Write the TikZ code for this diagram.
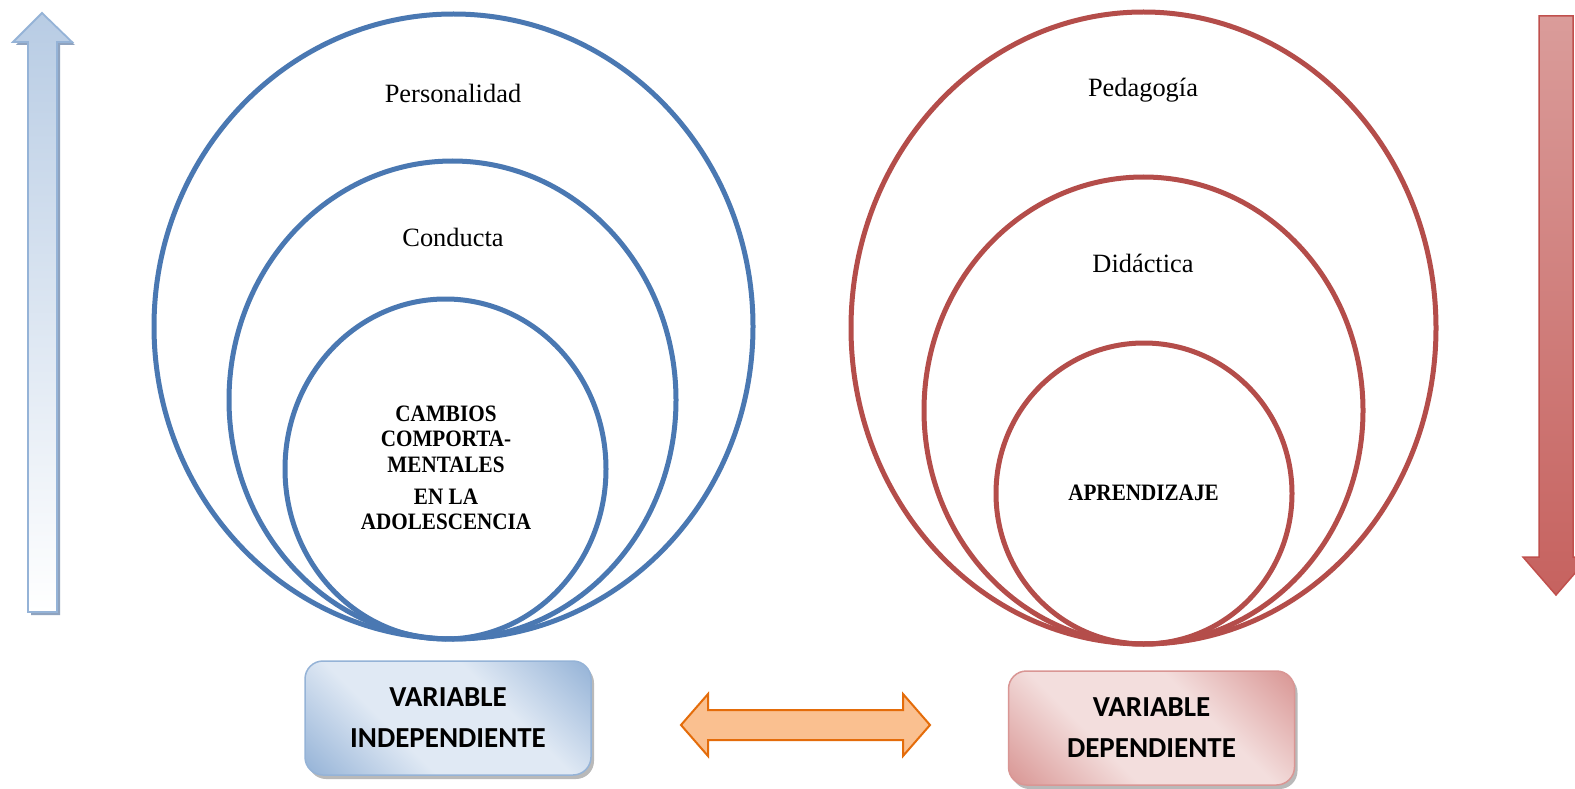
\documentclass[tikz,border=0pt]{standalone}
\usepackage{fontspec}
\setmainfont{Liberation Serif}
\newfontfamily\calib{Carlito}
\newfontfamily\coreserif[FakeStretch=0.9]{Liberation Serif}
\usetikzlibrary{shapes.geometric,shadows}
\definecolor{bluering}{HTML}{4A78B2}
\definecolor{redring}{HTML}{B44D4A}
\definecolor{bluedark}{HTML}{95B3D7}
\definecolor{bluelight}{HTML}{E0E9F4}
\definecolor{pinkdark}{HTML}{D99694}
\definecolor{pinklight}{HTML}{F3DEDD}
\definecolor{arrowblue}{HTML}{B8CCE4}
\definecolor{arrowblueedge}{HTML}{95B3D7}
\definecolor{arrowshadow}{HTML}{8FA3BF}
\definecolor{arrowredtop}{HTML}{DA9C9A}
\definecolor{arrowredbot}{HTML}{C6625F}
\definecolor{arrowrededge}{HTML}{C0504D}
\definecolor{orfill}{HTML}{FAC090}
\definecolor{oredge}{HTML}{E46C0A}
\pgfdeclareverticalshading{boxblueshade}{100bp}{color(0bp)=(bluedark); color(15bp)=(bluedark); color(38bp)=(bluelight); color(62bp)=(bluelight); color(85bp)=(bluedark); color(100bp)=(bluedark)}
\pgfdeclareverticalshading{boxpinkshade}{100bp}{color(0bp)=(pinkdark); color(15bp)=(pinkdark); color(38bp)=(pinklight); color(62bp)=(pinklight); color(85bp)=(pinkdark); color(100bp)=(pinkdark)}
\tikzset{
  ring/.style={ellipse, draw=#1, line width=5pt, inner sep=0pt, outer sep=0pt},
  lbl/.style={font=\fontsize{26.4}{30}\selectfont, inner sep=0pt},
  core/.style={font=\coreserif\bfseries\fontsize{23.5}{25.5}\selectfont, align=center, inner sep=0pt},
  varbox/.style={rounded corners=18pt, minimum width=286pt, minimum height=114pt,
    align=center, inner sep=0pt, line width=1.5pt,
    font=\calib\bfseries\fontsize{29}{41}\selectfont,
    drop shadow={shadow xshift=3pt, shadow yshift=-4pt, fill=black!50, opacity=0.55}},
  bluebox/.style={varbox, draw=bluedark, shading=boxblueshade, shading angle=135},
  pinkbox/.style={varbox, draw=pinkdark, shading=boxpinkshade, shading angle=135},
}
\begin{document}
\begin{tikzpicture}[x=1pt,y=-1pt]
\useasboundingbox (0,0) rectangle (1575,789);
\fill[white] (0,0) rectangle (1575,789);

% left vertical arrow (up)
\fill[arrowshadow] (45,16) -- (16,45) -- (31,45) -- (31,615) -- (60,615) -- (60,45) -- (75,45) -- cycle;
\shade[top color=arrowblue, bottom color=white, draw=arrowblueedge, line width=1.8pt, line join=miter]
  (42,13) -- (13,42) -- (28,42) -- (28,612) -- (57,612) -- (57,42) -- (72,42) -- cycle;

% right vertical arrow (down)
\shade[top color=arrowredtop, bottom color=arrowredbot, draw=arrowrededge, line width=1.5pt, line join=miter]
  (1539,16) -- (1573,16) -- (1573,557) -- (1589,557) -- (1556,595) -- (1523,557) -- (1539,557) -- cycle;

% blue circles
\node[ring=bluering, minimum width=599pt, minimum height=625pt] (bOuter) at (453.5,326.5) {};
\node[ring=bluering, minimum width=447pt, minimum height=478pt] (bMid) at (452.5,400) {};
\node[ring=bluering, minimum width=321pt, minimum height=340pt] (bIn) at (445.5,469) {};

% red circles
\node[ring=redring, minimum width=585pt, minimum height=632pt] (rOuter) at (1143.5,328) {};
\node[ring=redring, minimum width=439pt, minimum height=467pt] (rMid) at (1143.5,410.5) {};
\node[ring=redring, minimum width=296pt, minimum height=301pt] (rIn) at (1144,493.5) {};

% labels
\node[lbl] (tPers) at (453,93) {Personalidad};
\node[lbl] (tCond) at (453,237) {Conducta};
\node[core] (tCamb) at (446,468) {CAMBIOS\\COMPORTA-\\MENTALES\\[6.5pt]EN LA\\ADOLESCENCIA};
\node[lbl] (tPed) at (1143,90) {Pedagogía};
\node[lbl] (tDid) at (1143,263) {Didáctica};
\node[core] (tApr) at (1143.5,493) {APRENDIZAJE};

% variable boxes
\node[bluebox] (vInd) at (448,718) {VARIABLE\\INDEPENDIENTE};
\node[pinkbox] (vDep) at (1151.5,728) {VARIABLE\\DEPENDIENTE};

% double arrow
\draw[fill=orfill, draw=oredge, line width=2pt, line join=miter]
  (681,725) -- (708,694) -- (708,710) -- (903,710) -- (903,694) -- (930,725)
  -- (903,756) -- (903,740) -- (708,740) -- (708,756) -- cycle;
\end{tikzpicture}
\end{document}
